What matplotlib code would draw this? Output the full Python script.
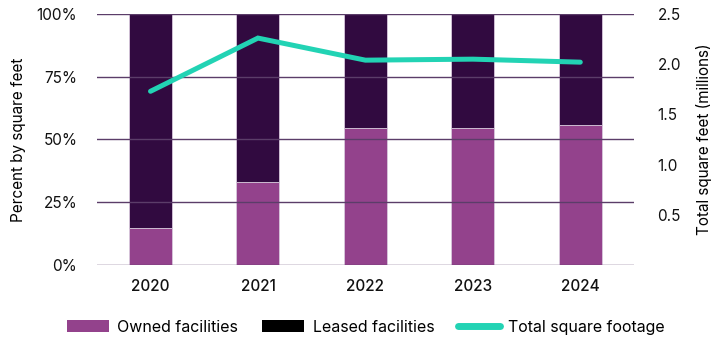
import matplotlib.pyplot as plt
from matplotlib.patches import Patch
from matplotlib.lines import Line2D
from matplotlib.ticker import PercentFormatter

years = ['2020', '2021', '2022', '2023', '2024']
owned = [14.6, 33.2, 54.4, 54.4, 55.7]
leased = [100 - v for v in owned]
total_sqft = [1.73, 2.26, 2.04, 2.05, 2.02]

c_owned = '#93428c'
c_leased = '#310a40'
c_line = '#22d3b4'
c_grid = '#5b3d69'

plt.rcParams['font.family'] = ['Inter', 'DejaVu Sans']
plt.rcParams['font.size'] = 11

fig, ax = plt.subplots(figsize=(7.25, 3.41), dpi=100)
fig.subplots_adjust(left=0.1335, right=0.8745, top=0.959, bottom=0.223)

x = range(len(years))
ax.bar(x, owned, width=0.4, color=c_owned, edgecolor='#d8c8dc', linewidth=0.6, zorder=2)
ax.bar(x, leased, width=0.4, bottom=owned, color=c_leased, edgecolor='#d8c8dc', linewidth=0.6, zorder=2)

ax.set_xlim(-0.5, len(years) - 0.5)
ax.set_ylim(0, 100)
ax.set_yticks([0, 25, 50, 75, 100])
ax.yaxis.set_major_formatter(PercentFormatter(decimals=0))
ax.grid(axis='y', color=c_grid, linewidth=1.0, zorder=3)
ax.set_axisbelow(False)
ax.set_xticks(list(x))
ax.set_xticklabels(years, fontsize=11, fontweight='medium')
ax.tick_params(axis='both', length=0, colors='#111111')
ax.tick_params(axis='y', pad=14)
ax.tick_params(axis='x', pad=10)
for s in ax.spines.values():
    s.set_visible(False)
ax.set_ylabel('Percent by square feet', fontsize=11, labelpad=8)

ax2 = ax.twinx()
ax2.plot(list(x), total_sqft, color=c_line, linewidth=3.6, solid_capstyle='round',
         solid_joinstyle='miter', zorder=4)
ax2.set_ylim(0, 2.5)
ax2.set_yticks([0.5, 1.0, 1.5, 2.0, 2.5])
ax2.set_yticklabels(['0.5', '1.0', '1.5', '2.0', '2.5'])
ax2.tick_params(axis='y', length=0, pad=17, colors='#111111')
for s in ax2.spines.values():
    s.set_visible(False)
ax2.set_ylabel('Total square feet (millions)', fontsize=11, labelpad=11)

handles = [
    Patch(facecolor=c_owned, label='Owned facilities'),
    Patch(facecolor='#000000', label='Leased facilities'),
    Line2D([0], [0], color=c_line, linewidth=5, solid_capstyle='round', label='Total square footage'),
]
fig.legend(handles=handles, loc='center', ncol=3, frameon=False,
           bbox_to_anchor=(0.505, 0.04), handlelength=2.6, handleheight=0.75,
           columnspacing=1.5, handletextpad=0.55, fontsize=11.5)

fig.savefig('out.png', dpi=100)
